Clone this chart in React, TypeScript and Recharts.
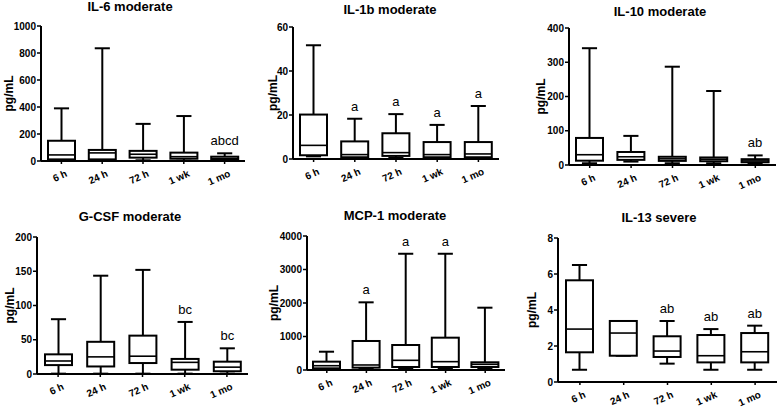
import React from "react";
import { ComposedChart, Bar, XAxis, YAxis } from "recharts";

const categories = ["6 h", "24 h", "72 h", "1 wk", "1 mo"];

// [min, q1, median, q3, max] per time point
const il6Box = [
  [5, 12, 45, 150, 390],
  [3, 12, 60, 82, 835],
  [5, 25, 50, 75, 275],
  [2, 17, 32, 62, 333],
  [2, 8, 18, 32, 57],
];
const il6Notes = ["", "", "", "", "abcd"];

const il1bBox = [
  [1.2, 1.7, 6.2, 20.2, 51.7],
  [0.3, 0.8, 2.0, 8.0, 18.3],
  [0.5, 1.4, 2.9, 11.7, 20.4],
  [0.3, 0.8, 2.0, 7.7, 15.5],
  [0.3, 0.8, 2.3, 7.7, 24.1],
];
const il1bNotes = ["", "a", "a", "a", "a"];

const il10Box = [
  [5, 12.6, 30, 79, 341],
  [10, 15, 24, 38, 85],
  [5, 12, 18, 24, 287],
  [5, 11, 17, 22, 216],
  [4, 8, 12, 17, 28],
];
const il10Notes = ["", "", "", "", "ab"];

const gcsfBox = [
  [0.5, 13, 19, 28.7, 80],
  [0.5, 11, 25, 47, 143.5],
  [0.5, 16, 26, 56, 152],
  [0.5, 6.3, 17, 22, 76],
  [0.5, 4, 10, 18, 37.5],
];
const gcsfNotes = ["", "", "", "bc", "bc"];

const mcp1Box = [
  [20, 50, 128, 249, 546],
  [30, 70, 150, 866, 2020],
  [40, 90, 289, 746, 3470],
  [40, 90, 249, 965, 3470],
  [30, 90, 170, 230, 1860],
];
const mcp1Notes = ["", "a", "a", "a", ""];

const il13Box = [
  [0.68, 1.65, 2.94, 5.65, 6.5],
  [1.46, 1.46, 2.72, 3.39, 3.39],
  [1.02, 1.39, 1.72, 2.54, 3.39],
  [0.68, 1.09, 1.46, 2.61, 2.94],
  [0.68, 1.09, 1.68, 2.72, 3.13],
];
const il13Notes = ["", "", "ab", "ab", "ab"];

const FONT = "'Liberation Sans', Arial, Helvetica, sans-serif";

const buildRows = (box: number[][], notes: string[]) =>
  categories.map((name, i) => ({
    name,
    range: [box[i][0], box[i][4]],
    stats: box[i],
    note: notes[i],
  }));

const BoxShape = (props: any) => {
  const { x, y, width, height, payload } = props;
  const [mn, q1, md, q3, mx] = payload.stats;
  const k = height / (mx - mn);
  const py = (v: number) => y + (mx - v) * k;
  const cx = x + width / 2;
  const cap = width * 0.28;
  return (
    <g stroke="#000" strokeWidth={2}>
      <line x1={cx} x2={cx} y1={py(mx)} y2={py(q3)} />
      <line x1={cx} x2={cx} y1={py(q1)} y2={py(mn)} />
      <line x1={cx - cap} x2={cx + cap} y1={py(mx)} y2={py(mx)} />
      <line x1={cx - cap} x2={cx + cap} y1={py(mn)} y2={py(mn)} />
      <rect x={x} y={py(q3)} width={width} height={Math.max(py(q1) - py(q3), 0.5)} fill="#fff" />
      <line x1={x} x2={x + width} y1={py(md)} y2={py(md)} strokeWidth={1.6} />
      {payload.note ? (
        <text x={cx} y={py(mx) - 8} textAnchor="middle" stroke="none" fill="#000" fontSize={13} fontFamily={FONT}>
          {payload.note}
        </text>
      ) : null}
    </g>
  );
};

const XTick = (props: any) => {
  const { x, y, payload } = props;
  return (
    <g transform={`translate(${x + 6.5},${y + 10}) rotate(-24)`}>
      <text x={0} y={0} textAnchor="end" fontSize={10} fontWeight="bold" fontFamily={FONT} fill="#000" stroke="none">
        {payload.value}
      </text>
    </g>
  );
};

interface PanelProps {
  left: number;
  top: number;
  height: number;
  plotTop: number;
  plotBottom: number;
  axisX: number;
  plotRight: number;
  labelX: number;
  title: string;
  titleX: number;
  titleBase: number;
  rows: any[];
  ticks: number[];
}

function Panel(p: PanelProps) {
  const width = 260;
  const yWidth = p.axisX - p.left;
  const mTop = p.plotTop - p.top;
  const xHeight = p.top + p.height - p.plotBottom;
  return (
    <>
      <div
        style={{
          position: "absolute",
          left: p.titleX - 100,
          top: p.titleBase - 11,
          width: 200,
          textAlign: "center",
          fontFamily: FONT,
          fontWeight: "bold",
          fontSize: 13,
          lineHeight: "13px",
          whiteSpace: "nowrap",
        }}
      >
        {p.title}
      </div>
      <div style={{ position: "absolute", left: p.left, top: p.top }}>
        <ComposedChart
          width={width}
          height={p.height}
          data={p.rows}
          margin={{ top: mTop, right: p.left + width - p.plotRight, bottom: 0, left: 0 }}
        >
          <XAxis
            dataKey="name"
            height={xHeight}
            interval={0}
            tick={<XTick />}
            tickSize={3}
            axisLine={{ stroke: "#000", strokeWidth: 2 }}
            tickLine={{ stroke: "#000", strokeWidth: 1.5 }}
          />
          <YAxis
            width={yWidth}
            domain={[0, p.ticks[p.ticks.length - 1]]}
            ticks={p.ticks}
            interval={0}
            tickSize={4}
            tickMargin={1}
            axisLine={{ stroke: "#000", strokeWidth: 2 }}
            tickLine={{ stroke: "#000", strokeWidth: 1.5 }}
            tick={{ fontSize: 10, fontWeight: "bold", fontFamily: FONT, fill: "#000" }}
            label={{
              value: "pg/mL",
              angle: -90,
              position: "insideLeft",
              offset: p.labelX - p.left,
              style: { fontSize: 12, fontWeight: "bold", fontFamily: FONT, fill: "#000", textAnchor: "middle" },
            }}
          />
          <Bar dataKey="range" barSize={27} shape={<BoxShape />} isAnimationActive={false} />
        </ComposedChart>
      </div>
    </>
  );
}

export default function App() {
  return (
    <div style={{ position: "absolute", left: 0, top: 0, width: 778, height: 414, background: "#fff" }}>
      <Panel left={0} top={0} height={205} plotTop={26} plotBottom={161} axisX={41} plotRight={245}
        labelX={9} title="IL-6 moderate" titleX={130} titleBase={11}
        rows={buildRows(il6Box, il6Notes)} ticks={[0, 200, 400, 600, 800, 1000]} />
      <Panel left={260} top={0} height={205} plotTop={27} plotBottom={159} axisX={293} plotRight={499}
        labelX={273} title="IL-1b moderate" titleX={390} titleBase={14}
        rows={buildRows(il1bBox, il1bNotes)} ticks={[0, 20, 40, 60]} />
      <Panel left={518} top={0} height={205} plotTop={28} plotBottom={165} axisX={569} plotRight={776}
        labelX={541} title="IL-10 moderate" titleX={660} titleBase={16}
        rows={buildRows(il10Box, il10Notes)} ticks={[0, 100, 200, 300, 400]} />
      <Panel left={0} top={205} height={209} plotTop={237} plotBottom={374} axisX={37} plotRight={248}
        labelX={10} title="G-CSF moderate" titleX={130} titleBase={221}
        rows={buildRows(gcsfBox, gcsfNotes)} ticks={[0, 50, 100, 150, 200]} />
      <Panel left={260} top={205} height={209} plotTop={236} plotBottom={370} axisX={307} plotRight={505}
        labelX={274} title="MCP-1 moderate" titleX={395} titleBase={220}
        rows={buildRows(mcp1Box, mcp1Notes)} ticks={[0, 1000, 2000, 3000, 4000]} />
      <Panel left={518} top={205} height={209} plotTop={238} plotBottom={382} axisX={558} plotRight={777}
        labelX={532} title="IL-13 severe" titleX={659} titleBase={222}
        rows={buildRows(il13Box, il13Notes)} ticks={[0, 2, 4, 6, 8]} />
    </div>
  );
}
